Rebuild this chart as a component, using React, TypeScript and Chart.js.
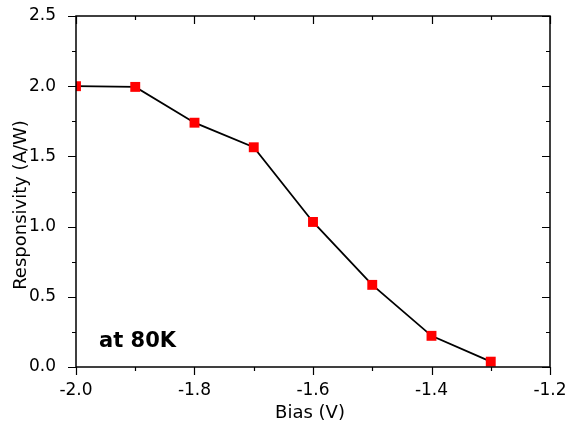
import React, { useEffect, useRef } from "react";
import { Chart, registerables } from "chart.js";

Chart.register(...registerables);

const biasValues = [-2.0, -1.9, -1.8, -1.7, -1.6, -1.5, -1.4, -1.3];
const responsivityValues = [2.0, 1.995, 1.74, 1.565, 1.033, 0.585, 0.222, 0.038];
const xMajorTicks = [-2.0, -1.8, -1.6, -1.4, -1.2];
const xMinorTicks = [-1.9, -1.7, -1.5, -1.3];
const yMajorTicks = [0, 0.5, 1.0, 1.5, 2.0, 2.5];
const yMinorTicks = [0.25, 0.75, 1.25, 1.75, 2.25];
const xTitle = "Bias (V)";
const yTitle = "Responsivity (A/W)";
const annotation = "at 80K";

const FONT = "'DejaVu Sans', sans-serif";

const framePlugin = {
  id: "frame",
  afterDatasetsDraw(chart: any) {
    const { ctx, chartArea: a, scales } = chart;
    const xs = scales.x;
    const ys = scales.y;
    ctx.save();
    ctx.strokeStyle = "#000";
    ctx.lineWidth = 1.5;
    ctx.strokeRect(a.left, a.top, a.right - a.left, a.bottom - a.top);
    ctx.lineWidth = 1.2;
    const major = 8;
    const minor = 4;
    ctx.beginPath();
    const xt = (v: number, len: number) => {
      const px = Math.round(xs.getPixelForValue(v)) + 0.5;
      ctx.moveTo(px, a.bottom);
      ctx.lineTo(px, a.bottom + len);
      ctx.moveTo(px, a.top);
      ctx.lineTo(px, a.top + len);
    };
    const yt = (v: number, len: number) => {
      const py = Math.round(ys.getPixelForValue(v)) + 0.5;
      ctx.moveTo(a.left, py);
      ctx.lineTo(a.left - len, py);
      ctx.moveTo(a.right, py);
      ctx.lineTo(a.right - len, py);
    };
    xMajorTicks.forEach((v) => xt(v, major));
    xMinorTicks.forEach((v) => xt(v, minor));
    yMajorTicks.forEach((v) => yt(v, major));
    yMinorTicks.forEach((v) => yt(v, minor));
    ctx.stroke();

    ctx.fillStyle = "#000";
    ctx.font = `18px ${FONT}`;
    ctx.textAlign = "center";
    ctx.textBaseline = "alphabetic";
    ctx.fillText(xTitle, 310, 418);

    ctx.save();
    ctx.translate(26, 205);
    ctx.rotate(-Math.PI / 2);
    ctx.fillText(yTitle, 0, 0);
    ctx.restore();

    ctx.font = `bold 21px ${FONT}`;
    ctx.textAlign = "left";
    ctx.fillText(annotation, 99, 347);
    ctx.restore();
  },
};

export default function App() {
  const ref = useRef<HTMLCanvasElement | null>(null);
  useEffect(() => {
    if (!ref.current) return;
    const chart = new Chart(ref.current, {
      type: "line",
      data: {
        datasets: [
          {
            data: biasValues.map((x, i) => ({ x, y: responsivityValues[i] })),
            borderColor: "#000",
            borderWidth: 1.8,
            pointStyle: "rect",
            pointRadius: 7,
            pointBackgroundColor: "#ff0000",
            pointBorderWidth: 0,
            pointBorderColor: "#ff0000",
            tension: 0,
          },
        ],
      },
      options: {
        animation: false,
        responsive: true,
        maintainAspectRatio: false,
        layout: { padding: { left: 0, top: 16, right: 25, bottom: 0 } },
        plugins: { legend: { display: false }, tooltip: { enabled: false } },
        scales: {
          x: {
            type: "linear",
            min: -2.0,
            max: -1.2,
            afterFit: (s: any) => {
              s.height = 61;
              s.paddingLeft = 0;
              s.paddingRight = 0;
            },
            afterBuildTicks: (s: any) => {
              s.ticks = xMajorTicks.map((v) => ({ value: v }));
            },
            grid: { display: false },
            border: { display: false },
            ticks: {
              color: "#000",
              font: { family: FONT, size: 17 },
              padding: 5,
              maxRotation: 0,
              callback: (v: any) => Number(v).toFixed(1),
            },
          },
          y: {
            type: "linear",
            min: 0,
            max: 2.5,
            afterFit: (s: any) => {
              s.width = 76;
              s.paddingTop = 0;
              s.paddingBottom = 0;
            },
            afterBuildTicks: (s: any) => {
              s.ticks = yMajorTicks.map((v) => ({ value: v }));
            },
            grid: { display: false },
            border: { display: false },
            ticks: {
              color: "#000",
              font: { family: FONT, size: 17 },
              padding: 12,
              callback: (v: any) => Number(v).toFixed(1),
            },
          },
        },
      },
      plugins: [framePlugin],
    });
    return () => chart.destroy();
  }, []);
  return (
    <div style={{ position: "absolute", left: 0, top: 0, width: 575, height: 428, background: "#fff" }}>
      <canvas ref={ref} />
    </div>
  );
}
